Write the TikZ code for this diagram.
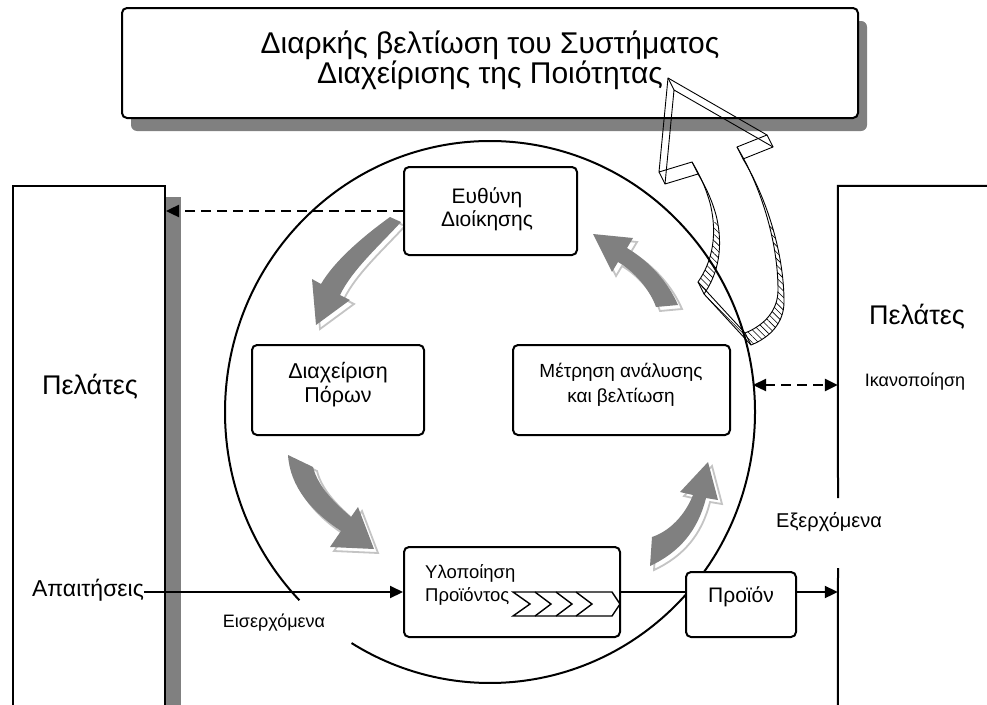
\documentclass[tikz,border=0pt]{standalone}
\usepackage{fontspec}
\setmainfont{Liberation Sans}
\usetikzlibrary{arrows.meta,patterns.meta}
\definecolor{shgray}{HTML}{808080}
\definecolor{lightedge}{HTML}{C4C4C4}
\newcommand{\fsz}[2]{\fontsize{#1}{#2}\selectfont}
\newcommand{\GrayArrow}[1]{\draw[lightedge,line width=1.8pt,shift={(4,4)}] #1; \fill[shgray] #1;}
\begin{document}
\begin{tikzpicture}[x=1pt,y=-1pt,
  box/.style={draw, line width=2pt, fill=white, rounded corners=5pt, inner sep=0pt},
  txt/.style={inner sep=0pt, align=center},
  plain/.style={line width=2pt},
  solidarrow/.style={line width=2pt, -{Triangle[length=13pt,width=12pt]}},
  dasharrow/.style={line width=2.4pt, dash pattern=on 10pt off 6pt, -{Triangle[length=13pt,width=12pt]}},
  dashdouble/.style={line width=2.4pt, dash pattern=on 10pt off 6pt, {Triangle[length=13pt,width=12pt]}-{Triangle[length=13pt,width=12pt]}},
  wire/.style={line width=0.9pt, line join=round}]
\useasboundingbox (0,0) rectangle (987,704);
\clip (0,0) rectangle (987,704);
\fill[white] (0,0) rectangle (987,704);

% circle (hand drawn) with gap at lower left
\draw[line width=2pt] (490,412) ++(136:265 and 271) arc[start angle=136, end angle=481.5, x radius=265, y radius=271];

% grey cycle arrows
\GrayArrow{(390,217) .. controls (365,235) and (335,260) .. (321,284) -- (312,279) -- (316,325) -- (350,300) -- (340,295) .. controls (352,270) and (380,245) .. (401,222) -- cycle}
\GrayArrow{(288,455) .. controls (290,487) and (312,512) .. (341,531) -- (330,547) -- (374,549) -- (358,507) -- (351,517) .. controls (335,503) and (318,487) .. (313,467) -- cycle}
\GrayArrow{(652,537) .. controls (670,531) and (685,515) .. (693,495) -- (680,492) -- (708,462) -- (718,500) -- (706,498) .. controls (698,530) and (680,552) .. (650,566) -- cycle}
\GrayArrow{(593,234) -- (633,238) -- (627,248) .. controls (650,262) and (668,282) .. (678,305) -- (656,307) .. controls (650,290) and (635,272) .. (618,262) -- (612,272) -- cycle}

% customers boxes
\fill[shgray] (165,197) rectangle (181,720);
\node[draw, line width=2pt, fill=white, minimum width=152pt, minimum height=534pt, inner sep=0pt] (lbox) at (89,453) {};
\node[minimum width=162pt, minimum height=534pt, inner sep=0pt] (rbox) at (919,453) {};
\draw[plain] (rbox.north east) -- (rbox.north west) -- (838,498);
\draw[plain] (838,568) -- (rbox.south west);

% top box with shadow
\fill[shgray, rounded corners=6pt] (131,21) rectangle (867,131);
\node[box, minimum width=736pt, minimum height=110pt] (top) at (490,63) {};
\node[txt, font=\fsz{30}{30}] (ttl) at (490,60) {Διαρκής βελτίωση του Συστήματος\\Διαχείρισης της Ποιότητας};

% process boxes
\node[box, minimum width=173pt, minimum height=88pt] (eu) at (490.5,211) {};
\node[txt, font=\fsz{21}{23}] (eut) at (487,209) {Ευθύνη\\Διοίκησης};
\node[box, minimum width=172pt, minimum height=90pt] (di) at (338,390) {};
\node[txt, font=\fsz{21.5}{24}] (dit) at (338,385) {Διαχείριση\\Πόρων};
\node[box, minimum width=217pt, minimum height=90pt] (me) at (621.5,390) {};
\node[txt, font=\fsz{19}{25}] (met) at (621,385) {Μέτρηση ανάλυσης\\και βελτίωση};
\node[box, minimum width=216pt, minimum height=90pt] (yl) at (512,592) {};
\node[txt, anchor=west, align=left, font=\fsz{18.5}{23}] (ylt) at (425,585) {Υλοποίηση\\Προϊόντος};
\node[box, minimum width=110pt, minimum height=65pt] (pr) at (741,604.5) {};
\node[txt, font=\fsz{21}{23}] (prt) at (741,597) {Προϊόν};

% chevron inside Υλοποίηση
\draw[line width=1.4pt, line join=miter] (513,592) -- (612,592) -- (620,604) -- (612,616) -- (513,616) -- (530,604) -- cycle;
\draw[line width=1.4pt] (535,592) -- (551,604) -- (535,616);
\draw[line width=1.4pt] (556,592) -- (572,604) -- (556,616);
\draw[line width=1.4pt] (576,592) -- (592,604) -- (576,616);

% labels
\node[txt, font=\fsz{27}{30}] (pl) at (90,387) {Πελάτες};
\node[txt, font=\fsz{27}{30}] (pr2) at (917,317) {Πελάτες};
\node[txt, font=\fsz{18}{20}] (ik) at (915,382) {Ικανοποίηση};
\node[txt, font=\fsz{23}{25}] (ap) at (88,590) {Απαιτήσεις};
\node[txt, font=\fsz{18}{20}] (eis) at (274,623) {Εισερχόμενα};
\node[txt, font=\fsz{20}{22}] (exo) at (829,522) {Εξερχόμενα};

% connectors
\coordinate (cR) at (753,385);
\draw[dasharrow] (eu.west) -- (eu.west -| lbox.east);
\draw[dashdouble] (cR) -- (cR -| rbox.west);
\draw[solidarrow] (ap.east |- yl.west) -- (yl.west);
\draw[plain] (yl.east) -- (yl.east -| pr.west);
\draw[solidarrow] (yl.east -| pr.east) -- (yl.east -| rbox.west);

% big 3D arrow
\begin{scope}
\clip (690,222) rectangle (800,360);
\fill[pattern={Lines[angle=-45,distance=4.5pt,line width=0.6pt]}, even odd rule]
 (668,78) -- (767,135) -- (737,147) .. controls (760,185) and (778,240) .. (778,290) .. controls (778,310) and (765,325) .. (745,333) -- (698,282) .. controls (712,262) and (718,235) .. (710,203) .. controls (705,185) and (698,172) .. (692,162) -- (659,172) -- cycle
 (674,90) -- (773,147) -- (743,159) .. controls (766,197) and (784,252) .. (784,302) .. controls (784,322) and (771,337) .. (751,345) -- (704,294) .. controls (718,274) and (724,247) .. (716,215) .. controls (711,197) and (704,184) .. (698,174) -- (665,184) -- cycle;
\end{scope}
\draw[wire] (668,78) -- (767,135) -- (737,147) .. controls (760,185) and (778,240) .. (778,290) .. controls (778,310) and (765,325) .. (745,333) -- (698,282) .. controls (712,262) and (718,235) .. (710,203) .. controls (705,185) and (698,172) .. (692,162) -- (659,172) -- cycle;
\draw[wire] (674,90) -- (773,147) -- (743,159) .. controls (766,197) and (784,252) .. (784,302) .. controls (784,322) and (771,337) .. (751,345) -- (704,294) .. controls (718,274) and (724,247) .. (716,215) .. controls (711,197) and (704,184) .. (698,174) -- (665,184) -- cycle;
\draw[wire] (668,78) -- (674,90) (767,135) -- (773,147) (737,147) -- (743,159) (659,172) -- (665,184) (692,162) -- (698,174) (745,333) -- (751,345) (698,282) -- (704,294);
\end{tikzpicture}
\end{document}
